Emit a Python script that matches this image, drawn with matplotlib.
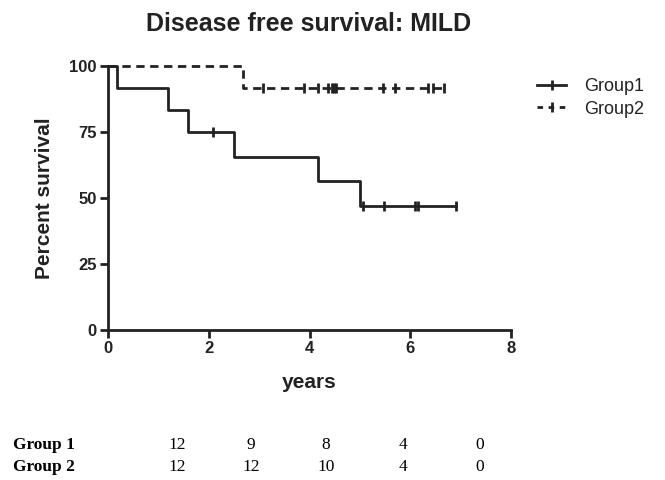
import matplotlib
matplotlib.use("Agg")
import matplotlib.pyplot as plt
from matplotlib.lines import Line2D

# Group 1 step curve
g1_times = [0, 0.17, 1.2, 1.59, 2.5, 4.17, 5.0, 6.9]
g1_surv = [100, 91.7, 83.3, 75.0, 65.6, 56.3, 46.9, 46.9]
g1_cens_t = [2.09, 5.07, 5.48, 6.09, 6.16, 6.9]
g1_cens_s = [75.0, 46.9, 46.9, 46.9, 46.9, 46.9]

# Group 2 step curve
g2_times = [0, 2.68, 6.67]
g2_surv = [100, 91.7, 91.7]
g2_cens_t = [3.08, 3.89, 4.17, 4.36, 4.44, 4.49, 4.53, 5.46, 5.69, 6.36, 6.45, 6.67]
g2_cens_s = [91.7] * 12

xticks = [0, 2, 4, 6, 8]
yticks = [0, 25, 50, 75, 100]

risk_labels = ["Group 1", "Group 2"]
risk_g1 = [12, 9, 8, 4, 0]
risk_g2 = [12, 12, 10, 4, 0]

plt.rcParams['font.family'] = ['Liberation Sans', 'DejaVu Sans']
C = '#222222'

fig = plt.figure(figsize=(6.65, 4.8), dpi=100)
W, H = 665, 480
ax = fig.add_axes([108/W, 1-330/H, (511-108)/W, (330-66)/H])

ax.step(g1_times, g1_surv, where='post', color=C, lw=2, clip_on=False)
ax.plot(g1_cens_t, g1_cens_s, ls='none', marker='|', ms=7, mew=2, color=C, clip_on=False)
ax.step(g2_times, g2_surv, where='post', color=C, lw=2, ls=(0, (3, 2)), clip_on=False)
ax.plot(g2_cens_t, g2_cens_s, ls='none', marker='|', ms=7, mew=2, color=C, clip_on=False)

ax.set_xlim(0, 8)
ax.set_ylim(0, 100)
ax.set_xticks(xticks)
ax.set_yticks(yticks)
for s in ['top', 'right']:
    ax.spines[s].set_visible(False)
for s in ['left', 'bottom']:
    ax.spines[s].set_linewidth(2)
    ax.spines[s].set_color(C)
ax.tick_params(width=2, length=6, color=C, labelsize=12, pad=2, labelcolor=C)
for lab in ax.get_xticklabels() + ax.get_yticklabels():
    lab.set_fontweight('bold')
ax.set_xlabel('years', fontsize=15, fontweight='bold', color=C)
ax.set_ylabel('Percent survival', fontsize=15, fontweight='bold', color=C)
ax.xaxis.set_label_coords(0.5, -(382-330)/(330-66), transform=ax.transAxes)
ax.yaxis.set_label_coords(-(108-45)/(511-108), 0.5, transform=ax.transAxes)
ax.xaxis.label.set_va('center')
ax.yaxis.label.set_va('center')
fig.text(309/W, 1-31/H, 'Disease free survival: MILD', fontsize=18, fontweight='bold',
         ha='center', va='baseline', color=C)

handles = [Line2D([0], [0], color=C, lw=2, marker='|', ms=7, mew=2),
           Line2D([0], [0], color=C, lw=2, ls=(0, (2, 2)), marker='|', ms=7, mew=2)]
fig.legend(handles, ['Group1', 'Group2'], loc='upper left', bbox_to_anchor=(521/W, 1-62/H),
           frameon=False, fontsize=13, handlelength=1.6, labelspacing=0.3, handletextpad=1.0,
           labelcolor=C)

xs = [177, 251, 326, 403, 480]
rows_y = [445, 467]
for lab, vals, yy in zip(risk_labels, [risk_g1, risk_g2], rows_y):
    y = 1 - yy/H
    fig.text(13/W, y, lab, fontsize=12.5, fontweight='bold', family='Liberation Serif', va='center')
    for x, v in zip(xs, vals):
        fig.text(x/W, y, str(v), fontsize=12.5, family='Liberation Serif', ha='center', va='center')

fig.savefig('out.png', dpi=100)
